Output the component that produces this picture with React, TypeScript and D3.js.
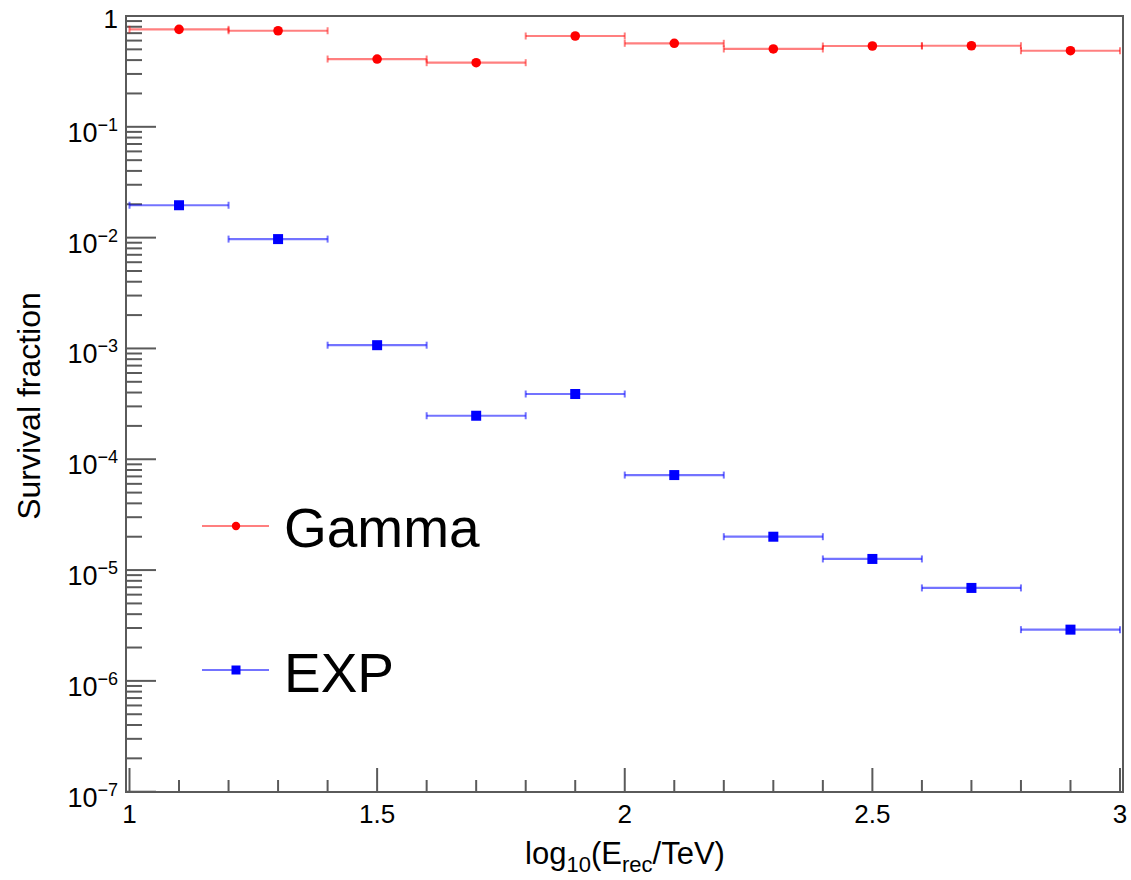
import React from "react";
import * as d3 from "d3";

// ---- data ----
const binCenters = [1.1, 1.3, 1.5, 1.7, 1.9, 2.1, 2.3, 2.5, 2.7, 2.9];
const binHalfWidth = 0.1;
const gammaValues = [0.758, 0.736, 0.409, 0.379, 0.66, 0.567, 0.504, 0.536, 0.539, 0.486];
const expValues = [0.0196, 0.0097, 0.00107, 0.000247, 0.000388, 0.000072, 0.00002, 0.0000126, 0.0000069, 0.0000029];
const xMajorTicks = [1, 1.5, 2, 2.5, 3];
const xMajorLabels = ["1", "1.5", "2", "2.5", "3"];
const yDecadeExponents = [0, -1, -2, -3, -4, -5, -6, -7];
const legendLabels = ["Gamma", "EXP"];

const FONT = "'Liberation Sans', Arial, Helvetica, sans-serif";

export default function App() {
  const W = 1131, H = 880;
  const frame = { left: 126, right: 1123, top: 16, bottom: 792 };
  const x = d3.scaleLinear().domain([1, 3]).range([129.5, 1120]);
  const y = d3.scaleLog().domain([1e-7, 1]).range([791.7, 16]);

  const axisColor = "#5a5a5a";
  const redLine = "rgba(255,0,0,0.5)";
  const blueLine = "rgba(0,0,255,0.55)";

  // minor ticks
  const xMinor = d3.range(1, 3.0001, 0.1).map((v) => +v.toFixed(2)).filter((v) => !xMajorTicks.some((m) => Math.abs(m - v) < 1e-6));
  const yMinor: number[] = [];
  for (let e = -7; e < 0; e++) {
    for (let k = 2; k <= 9; k++) yMinor.push(k * Math.pow(10, e));
  }

  const capH = 3.5;

  const series = [
    { values: expValues, line: blueLine, color: "#0000ff", shape: "square" },
    { values: gammaValues, line: redLine, color: "#ff0000", shape: "circle" },
  ];

  return (
    <svg width={W} height={H} style={{ position: "absolute", left: 0, top: 0, display: "block", background: "#fff" }} fontFamily={FONT}>
      <rect x={0} y={0} width={W} height={H} fill="#fff" />
      {/* frame */}
      <rect x={frame.left} y={frame.top} width={frame.right - frame.left} height={frame.bottom - frame.top} fill="none" stroke={axisColor} strokeWidth={2} />

      {/* x ticks */}
      {xMajorTicks.map((t) => (
        <line key={"xM" + t} x1={x(t)} x2={x(t)} y1={frame.bottom} y2={frame.bottom - 24} stroke={axisColor} strokeWidth={2} />
      ))}
      {xMinor.map((t) => (
        <line key={"xm" + t} x1={x(t)} x2={x(t)} y1={frame.bottom} y2={frame.bottom - 12} stroke={axisColor} strokeWidth={2} />
      ))}
      {xMajorTicks.map((t, i) => (
        <text key={"xl" + t} x={x(t)} y={823} fontSize={26} textAnchor="middle" fill="#000">
          {xMajorLabels[i]}
        </text>
      ))}

      {/* y ticks */}
      {yDecadeExponents.map((e) => (
        <line key={"yM" + e} x1={frame.left} x2={frame.left + 30} y1={y(Math.pow(10, e))} y2={y(Math.pow(10, e))} stroke={axisColor} strokeWidth={2} />
      ))}
      {yMinor.map((v, i) => (
        <line key={"ym" + i} x1={frame.left} x2={frame.left + 16} y1={y(v)} y2={y(v)} stroke={axisColor} strokeWidth={2} />
      ))}
      {yDecadeExponents.map((e) =>
        e === 0 ? (
          <text key={"yl" + e} x={118} y={y(1) + 12} fontSize={26} textAnchor="end" fill="#000">1</text>
        ) : (
          <text key={"yl" + e} x={118} y={y(Math.pow(10, e)) + 15} fontSize={27} textAnchor="end" fill="#000">
            10
            <tspan fontSize={18} dy={-11}>{"\u2212" + Math.abs(e)}</tspan>
          </text>
        )
      )}

      {/* axis titles */}
      <text x={625} y={864} fontSize={31} textAnchor="middle" fill="#000">
        log
        <tspan fontSize={22} dy={8}>10</tspan>
        <tspan dy={-8}>(E</tspan>
        <tspan fontSize={22} dy={8}>rec</tspan>
        <tspan dy={-8}>/TeV)</tspan>
      </text>
      <text transform="translate(40,406) rotate(-90)" fontSize={32} textAnchor="middle" fill="#000">
        Survival fraction
      </text>

      {/* data */}
      {series.map((s, si) => (
        <g key={"s" + si}>
          {binCenters.map((c, i) => {
            const yy = y(s.values[i]);
            const x0 = x(c - binHalfWidth), x1 = x(c + binHalfWidth);
            return (
              <g key={i}>
                <line x1={x0} x2={x1} y1={yy} y2={yy} stroke={s.line} strokeWidth={2.2} />
                <line x1={x0} x2={x0} y1={yy - capH} y2={yy + capH} stroke={s.line} strokeWidth={2} />
                <line x1={x1} x2={x1} y1={yy - capH} y2={yy + capH} stroke={s.line} strokeWidth={2} />
                {s.shape === "circle" ? (
                  <circle cx={x(c)} cy={yy} r={4.8} fill={s.color} />
                ) : (
                  <rect x={x(c) - 5} y={yy - 5} width={10} height={10} fill={s.color} />
                )}
              </g>
            );
          })}
        </g>
      ))}

      {/* legend */}
      <g>
        <line x1={202} x2={269} y1={526} y2={526} stroke={redLine} strokeWidth={1.8} />
        <circle cx={236} cy={526} r={4.2} fill="#ff0000" />
        <text x={284} y={547} fontSize={55} fill="#000">{legendLabels[0]}</text>
        <line x1={202} x2={269} y1={670} y2={670} stroke={blueLine} strokeWidth={1.8} />
        <rect x={231.5} y={665.5} width={9} height={9} fill="#0000ff" />
        <text x={284} y={692} fontSize={55} fill="#000">{legendLabels[1]}</text>
      </g>
    </svg>
  );
}
